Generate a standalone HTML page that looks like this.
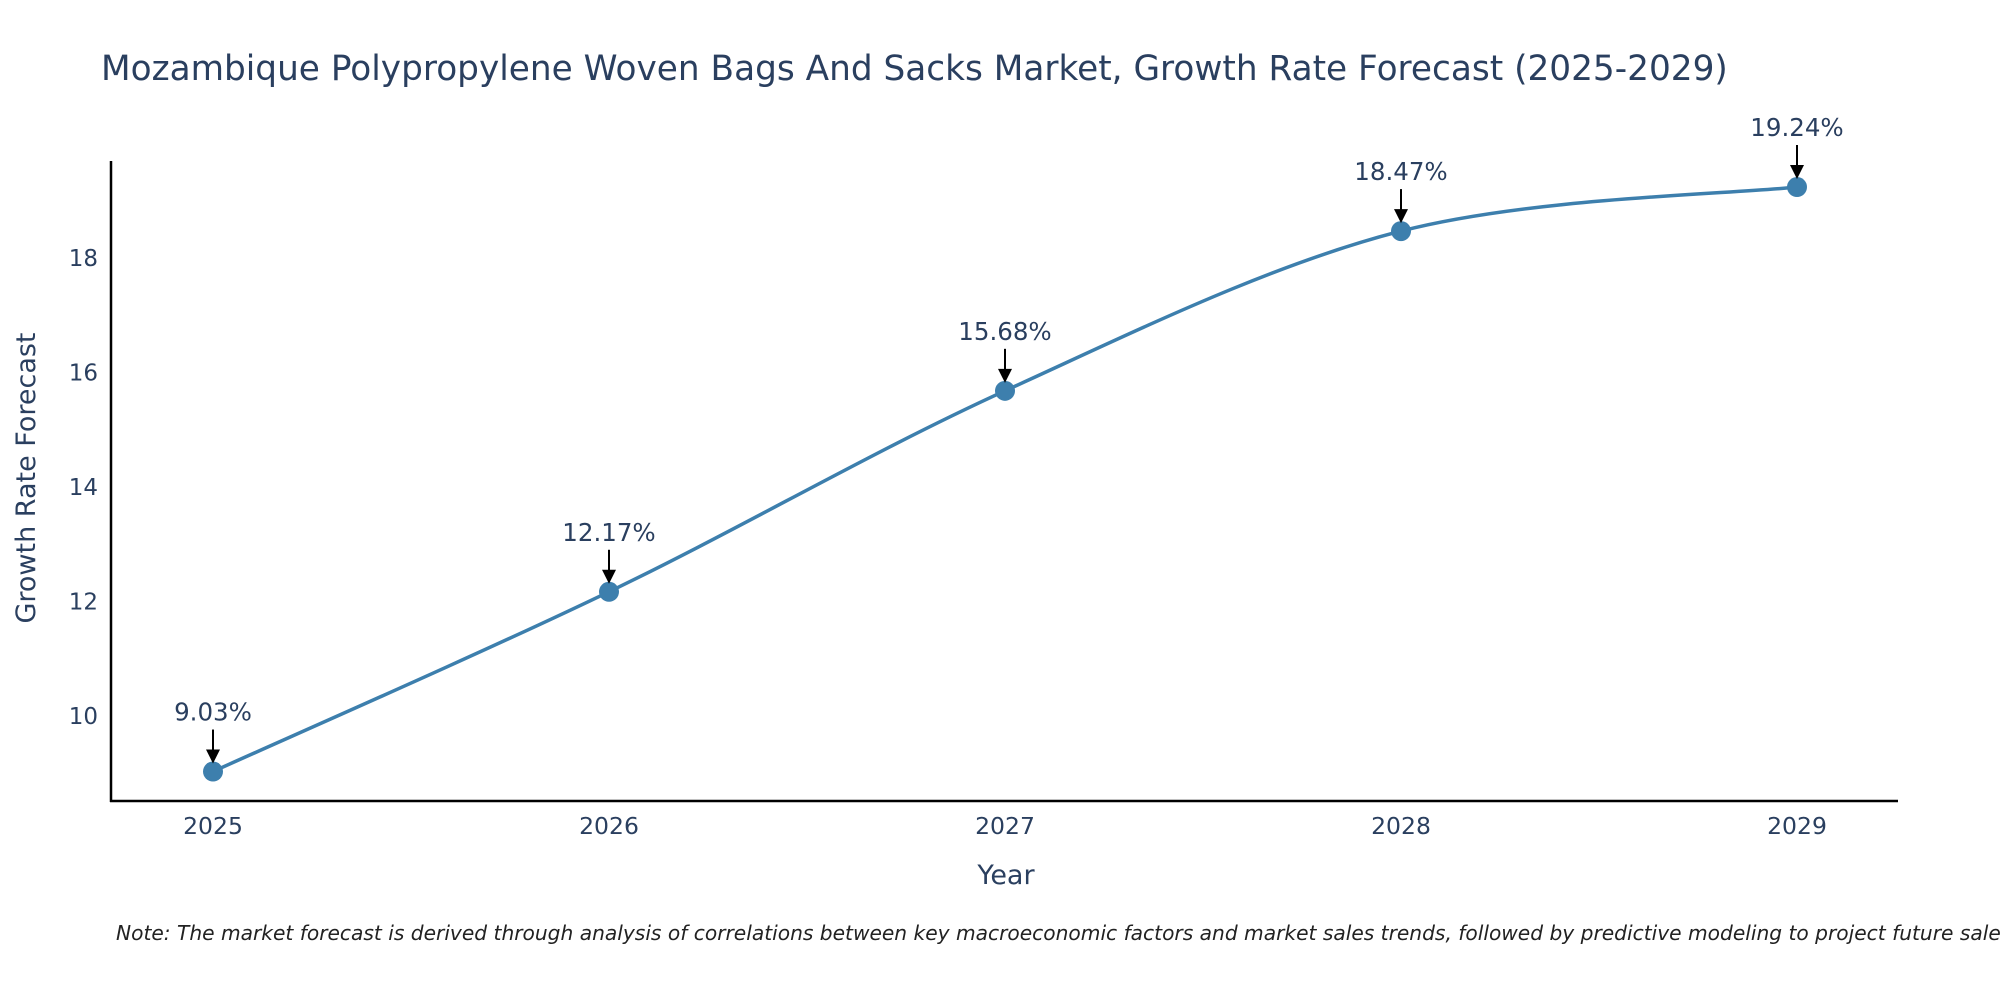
<!DOCTYPE html>
<html><head><meta charset="utf-8"><style>
body{margin:0;background:#fff;}
svg{display:block;font-family:"DejaVu Sans","Liberation Sans",sans-serif;}
</style></head><body>
<svg id="chart" width="2000" height="1000">
<text x="101" y="80" font-size="34.3" fill="#2a3f5f">Mozambique Polypropylene Woven Bags And Sacks Market, Growth Rate Forecast (2025-2029)</text>
<g id="yticks"></g><g id="xticks"></g>
<line x1="111" y1="161" x2="111" y2="802" stroke="#000" stroke-width="2.5"/>
<line x1="110" y1="801" x2="1898" y2="801" stroke="#000" stroke-width="2.5"/>
<path id="line" fill="none" stroke="#3d7fad" stroke-width="3.5"/>
<g id="marks"></g>
<text x="1006" y="884" font-size="27" fill="#2a3f5f" text-anchor="middle">Year</text>
<text transform="translate(35,478) rotate(-90)" font-size="27" fill="#2a3f5f" text-anchor="middle">Growth Rate Forecast</text>
<text x="116" y="940" font-size="20.2" font-style="italic" fill="#222">Note: The market forecast is derived through analysis of correlations between key macroeconomic factors and market sales trends, followed by predictive modeling to project future sales</text>
</svg>
<script>
const years=[2025,2026,2027,2028,2029];
const values=[9.03,12.17,15.68,18.47,19.24];
const labels=["9.03%","12.17%","15.68%","18.47%","19.24%"];
const yTicks=[10,12,14,16,18];
const NS="http://www.w3.org/2000/svg";
const xs=i=>213+(1797-213)*i/(years.length-1);
const ys=v=>716-(v-10)*57.25;
function mk(t,a,p){const e=document.createElementNS(NS,t);for(const k in a)e.setAttribute(k,a[k]);p.appendChild(e);return e;}
const yt=document.getElementById('yticks');
yTicks.forEach(v=>{const t=mk('text',{x:98,y:ys(v)+8,'font-size':23,fill:'#2a3f5f','text-anchor':'end'},yt);t.textContent=v;

});
const xt=document.getElementById('xticks');
years.forEach((y,i)=>{const t=mk('text',{x:xs(i),y:834,'font-size':23.5,fill:'#2a3f5f','text-anchor':'middle'},xt);t.textContent=y;

});
const P=values.map((v,i)=>[xs(i),ys(v)]);
let d='M'+P[0][0]+','+P[0][1];
for(let i=0;i<P.length-1;i++){const p0=P[Math.max(i-1,0)],p1=P[i],p2=P[i+1],p3=P[Math.min(i+2,P.length-1)];const k=1/6;
d+=` C${p1[0]+(p2[0]-p0[0])*k},${p1[1]+(p2[1]-p0[1])*k} ${p2[0]-(p3[0]-p1[0])*k},${p2[1]-(p3[1]-p1[1])*k} ${p2[0]},${p2[1]}`;}
document.getElementById('line').setAttribute('d',d);
const m=document.getElementById('marks');
P.forEach((p,i)=>{
const c=mk('circle',{cx:p[0],cy:p[1],r:10,fill:'#3d7fad'},m);


const l=mk('line',{x1:p[0],y1:p[1]-42,x2:p[0],y2:p[1]-20,stroke:'#000','stroke-width':2},m);


const h=mk('polygon',{points:`${p[0]-7},${p[1]-22} ${p[0]+7},${p[1]-22} ${p[0]},${p[1]-8}`,fill:'#000'},m);


const t=mk('text',{x:p[0],y:p[1]-51,'font-size':24.5,fill:'#2a3f5f','text-anchor':'middle'},m);t.textContent=labels[i];


});
</script>
</body></html>
